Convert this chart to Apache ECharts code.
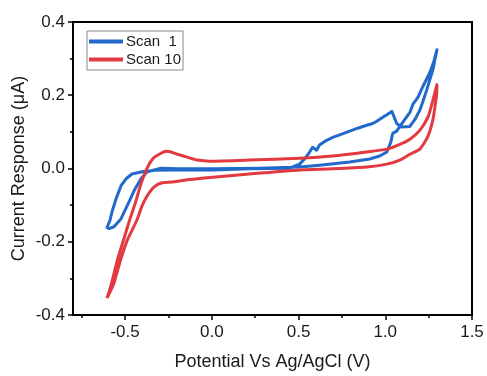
<!DOCTYPE html>
<html>
<head>
<meta charset="utf-8">
<script src="https://cdn.jsdelivr.net/npm/echarts@6/dist/echarts.min.js"></script>
<style>
  html, body { margin: 0; padding: 0; background: #fff; }
  #chart { width: 487px; height: 376px; }
</style>
</head>
<body>
<div id="chart"></div>
<script>
// Cyclic voltammograms: potential (V vs Ag/AgCl) and current (µA), traced as closed loops.
const scan1Potential = [
  0.014, 0.217, 0.448, 0.506, 0.535, 0.564, 0.581, 0.604, 0.621, 0.662, 0.697, 0.749, 0.795, 0.841,
  0.893, 0.928, 0.951, 0.986, 1.014, 1.038, 1.066, 1.095, 1.142, 1.171, 1.199, 1.217, 1.240, 1.257,
  1.275, 1.286, 1.298,
  1.280, 1.257, 1.217, 1.188, 1.159, 1.142, 1.113, 1.084, 1.066, 1.043, 1.032, 1.009, 0.968, 0.910,
  0.795, 0.621, 0.506, 0.275, 0.014, -0.188, -0.292, -0.332, -0.373, -0.408, -0.448, -0.488, -0.523,
  -0.564, -0.592, -0.604, -0.587, -0.575, -0.552, -0.523, -0.494, -0.460, -0.402, -0.332, -0.200, 0.014
];
const scan1Current = [
  -0.004, -0.001, 0.001, 0.012, 0.026, 0.045, 0.058, 0.050, 0.064, 0.077, 0.085, 0.094, 0.102, 0.110,
  0.118, 0.123, 0.129, 0.140, 0.148, 0.156, 0.123, 0.113, 0.115, 0.134, 0.159, 0.183, 0.216, 0.243,
  0.270, 0.297, 0.324,
  0.292, 0.262, 0.224, 0.194, 0.175, 0.153, 0.134, 0.115, 0.102, 0.096, 0.072, 0.045, 0.034, 0.026,
  0.018, 0.009, 0.004, 0.001, -0.001, -0.001, 0.001, -0.004, -0.009, -0.028, -0.061, -0.102, -0.137,
  -0.159, -0.164, -0.161, -0.142, -0.118, -0.083, -0.047, -0.028, -0.015, -0.009, -0.005, -0.004, -0.004
];

const scan10Potential = [
  -0.604, -0.581, -0.541, -0.506, -0.471, -0.442, -0.408, -0.373, -0.338, -0.303, -0.263, -0.234,
  -0.199, -0.142, -0.084, -0.014, 0.217, 0.506, 0.697, 0.893, 1.009, 1.084, 1.142, 1.199, 1.246,
  1.263, 1.280, 1.298,
  1.296, 1.290, 1.275, 1.246, 1.199, 1.142, 1.084, 1.009, 0.893, 0.697, 0.506, 0.217, -0.043,
  -0.142, -0.234, -0.286, -0.332, -0.373, -0.402, -0.431, -0.460, -0.488, -0.523, -0.564, -0.604
];
const scan10Current = [
  -0.354, -0.319, -0.245, -0.191, -0.137, -0.096, -0.042, 0.001, 0.028, 0.039, 0.047, 0.045,
  0.039, 0.031, 0.023, 0.020, 0.023, 0.028, 0.034, 0.045, 0.053, 0.066, 0.080, 0.104, 0.140,
  0.166, 0.196, 0.229,
  0.202, 0.180, 0.134, 0.088, 0.053, 0.039, 0.023, 0.012, 0.004, -0.001, -0.004, -0.015, -0.026,
  -0.031, -0.037, -0.039, -0.050, -0.075, -0.102, -0.140, -0.169, -0.197, -0.245, -0.313, -0.354
];

const xMajorTicks = [-0.5, 0.0, 0.5, 1.0, 1.5];
const xMinorTicks = [-0.75, -0.25, 0.25, 0.75, 1.25];
const seriesNames = ['Scan  1', 'Scan 10'];

const pairs = (xs, ys) => xs.map((x, i) => [x, ys[i]]);

const chart = echarts.init(document.getElementById('chart'), null, { renderer: 'canvas' });
const fontFamily = '"Liberation Sans", Arial, sans-serif';

chart.setOption({
  animation: false,
  backgroundColor: '#fff',
  grid: {
    left: 73, top: 22, right: 15, bottom: 59,
    show: true, borderColor: '#000', borderWidth: 2, backgroundColor: '#fff'
  },
  legend: {
    orient: 'vertical',
    left: 87, top: 31,
    padding: [3, 2, 3, 2],
    itemGap: 3,
    itemWidth: 34, itemHeight: 4,
    icon: 'rect',
    borderColor: '#8a8a8a', borderWidth: 1,
    backgroundColor: '#fff',
    textStyle: { fontFamily, fontSize: 15, color: '#1a1a1a', padding: [0, 0, 0, -2] },
    data: seriesNames
  },
  xAxis: [
    {
      type: 'value', min: -0.8, max: 1.5,
      name: 'Potential Vs Ag/AgCl (V)',
      nameLocation: 'middle', nameGap: 38,
      nameTextStyle: { fontFamily, fontSize: 18, color: '#1a1a1a' },
      axisLine: { show: true, onZero: false, lineStyle: { color: '#000', width: 2 } },
      axisTick: { show: true, length: 5, customValues: xMajorTicks, lineStyle: { color: '#000', width: 1.5 } },
      axisLabel: {
        customValues: xMajorTicks, margin: 9,
        fontFamily, fontSize: 17, color: '#1a1a1a',
        formatter: v => v.toFixed(1)
      },
      splitLine: { show: false }
    },
    {
      type: 'value', min: -0.8, max: 1.5, position: 'bottom',
      axisLine: { show: false, onZero: false },
      axisTick: { show: true, length: 3, customValues: xMinorTicks, lineStyle: { color: '#000', width: 1.5 } },
      axisLabel: { show: false },
      splitLine: { show: false }
    }
  ],
  yAxis: {
    type: 'value', min: -0.4, max: 0.4, interval: 0.2,
    name: 'Current Response (μA)',
    nameLocation: 'middle', nameGap: 45, nameMoveOverlap: false,
    nameTextStyle: { fontFamily, fontSize: 18, color: '#1a1a1a' },
    axisLine: { show: true, onZero: false, lineStyle: { color: '#000', width: 2 } },
    axisTick: { show: true, length: 5, lineStyle: { color: '#000', width: 1.5 } },
    minorTick: { show: true, splitNumber: 2, length: 3, lineStyle: { color: '#000', width: 1.5 } },
    axisLabel: { margin: 8, fontFamily, fontSize: 17, color: '#1a1a1a', formatter: v => v.toFixed(1) },
    splitLine: { show: false }
  },
  series: [
    {
      name: seriesNames[0], type: 'line', xAxisIndex: 0,
      data: pairs(scan1Potential, scan1Current),
      showSymbol: false, smooth: false,
      color: '#2269cc',
      lineStyle: { width: 3, color: '#2269cc', join: 'round' }
    },
    {
      name: seriesNames[1], type: 'line', xAxisIndex: 0,
      data: pairs(scan10Potential, scan10Current),
      showSymbol: false, smooth: 0.2,
      color: '#e23a40',
      lineStyle: { width: 3, color: '#e23a40', join: 'round' }
    }
  ]
});
</script>
</body>
</html>
